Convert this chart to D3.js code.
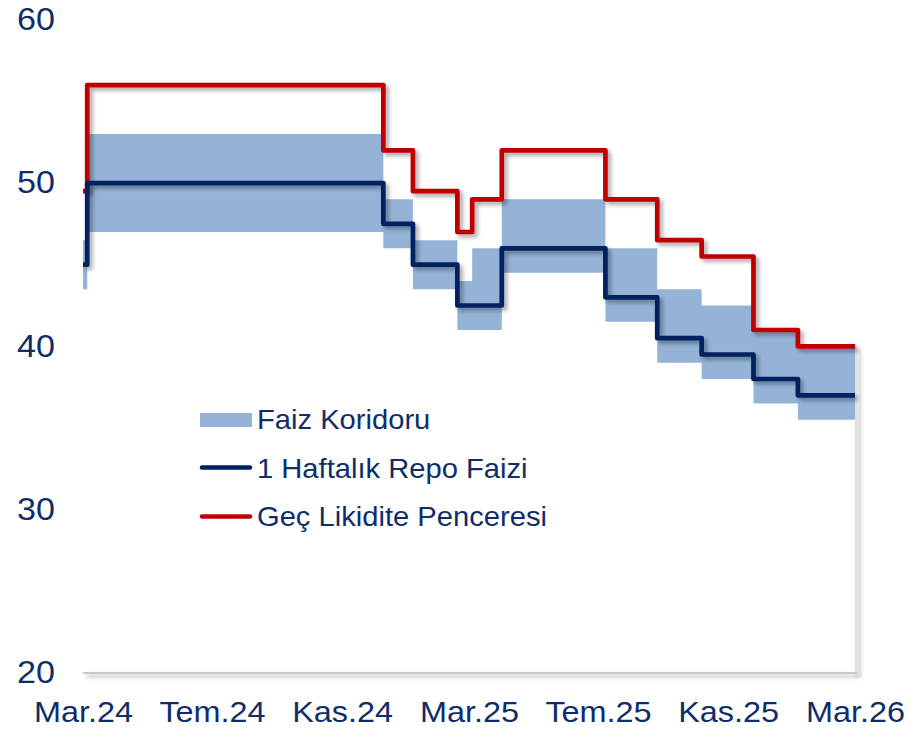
<!DOCTYPE html>
<html>
<head>
<meta charset="utf-8">
<script src="https://cdn.jsdelivr.net/npm/d3@7/dist/d3.min.js"></script>
<style>
  html, body { margin: 0; padding: 0; background: #fff; }
  svg { display: block; }
  text { font-family: "Liberation Sans", Arial, sans-serif; fill: #0F2D69; }
</style>
</head>
<body>
<svg id="chart" width="922" height="729"></svg>
<script>
// ---- data ----
const changeDates = ["2024-03-17","2024-03-21","2024-12-26","2025-01-23","2025-03-06","2025-03-20","2025-04-17","2025-07-24","2025-09-11","2025-10-23","2025-12-11","2026-01-22","2026-03-17"];
const repoRate   = [45, 50, 47.5, 45, 42.5, 42.5, 46, 43, 40.5, 39.5, 38, 37, 37];
const corridorLo = [43.5, 47, 46, 43.5, 41, 41, 44.5, 41.5, 39, 38, 36.5, 35.5, 35.5];
const corridorHi = [46.5, 53, 49, 46.5, 44, 46, 49, 46, 43.5, 42.5, 41, 40, 40];
const lateWindow = [49.5, 56, 52, 49.5, 47, 49, 52, 49, 46.5, 45.5, 41, 40, 40];
const yTicks = [20, 30, 40, 50, 60];
const xTickLabels = ["Mar.24", "Tem.24", "Kas.24", "Mar.25", "Tem.25", "Kas.25", "Mar.26"];
const legendLabels = ["Faiz Koridoru", "1 Haftalık Repo Faizi", "Geç Likidite Penceresi"];

(function () {
const parse = d3.timeParse("%Y-%m-%d");
const rows = changeDates.map((d, i) => ({
  date: parse(d), repo: repoRate[i], lo: corridorLo[i], hi: corridorHi[i], llw: lateWindow[i]
}));

const svg = d3.select("#chart");
const pLeft = 83, pRight = 855, pTop = 19.7, pBottom = 673;

const x = d3.scaleTime()
  .domain([rows[0].date, rows[rows.length - 1].date])
  .range([pLeft, pRight]);
const y = d3.scaleLinear().domain([20, 60]).range([pBottom, pTop]);

const defs = svg.append("defs");
const f = defs.append("filter").attr("id", "shadow")
  .attr("filterUnits", "userSpaceOnUse")
  .attr("x", 0).attr("y", 0).attr("width", 922).attr("height", 729);
f.append("feDropShadow").attr("dx", 3).attr("dy", 3).attr("stdDeviation", 2)
  .attr("flood-color", "#000").attr("flood-opacity", 0.35);

// right edge line of the plot
const last = rows[rows.length - 1];
svg.append("line")
  .attr("x1", x(last.date) + 1).attr("x2", x(last.date) + 1)
  .attr("y1", y(last.hi)).attr("y2", pBottom)
  .attr("stroke", "#E0E0E0").attr("stroke-width", 2).attr("filter", "url(#shadow)");

// corridor band
const area = d3.area()
  .x(d => x(d.date)).y0(d => y(d.lo)).y1(d => y(d.hi))
  .curve(d3.curveStepAfter);
svg.append("path").datum(rows).attr("d", area).attr("fill", "#95B3D7");

// x axis line
svg.append("line")
  .attr("x1", pLeft).attr("x2", pRight + 2).attr("y1", pBottom).attr("y2", pBottom)
  .attr("stroke", "#C8C8C8").attr("stroke-width", 2).attr("filter", "url(#shadow)");

// lines
const lineOf = key => d3.line().x(d => x(d.date)).y(d => y(d[key])).curve(d3.curveStepAfter);
svg.append("path").datum(rows).attr("d", lineOf("llw"))
  .attr("fill", "none").attr("stroke", "#C00000").attr("stroke-width", 4.7)
  .attr("stroke-linejoin", "round").attr("filter", "url(#shadow)");
svg.append("path").datum(rows).attr("d", lineOf("repo"))
  .attr("fill", "none").attr("stroke", "#002060").attr("stroke-width", 4.7)
  .attr("stroke-linejoin", "round").attr("filter", "url(#shadow)");

// y axis labels
const yAxis = d3.axisLeft(y).tickValues(yTicks).tickSize(0).tickPadding(0).tickFormat(d3.format("d"));
const gy = svg.append("g").attr("transform", "translate(55,0)").call(yAxis);
gy.select(".domain").remove();
gy.selectAll("text").attr("font-size", 31).attr("x", 0).attr("dy", "0.32em")
  .attr("transform", "scale(1.1,1)")
  .style("font-family", "'Liberation Sans', Arial, sans-serif").attr("fill", "#0F2D69");

// x axis labels
const xTicks = d3.range(0, 7).map(i => d3.timeMonth.offset(rows[0].date, i * 4));
const xAxis = d3.axisBottom(x).tickValues(xTicks).tickSize(0).tickPadding(0)
  .tickFormat((d, i) => xTickLabels[i]);
const gx = svg.append("g").attr("transform", `translate(0,${pBottom})`).call(xAxis);
gx.select(".domain").remove();
gx.selectAll("text").attr("font-size", 30).attr("y", 49).attr("dy", 0)
  .attr("transform", "scale(1.08,1)")
  .style("font-family", "'Liberation Sans', Arial, sans-serif").attr("fill", "#0F2D69");

// legend
const lg = svg.append("g");
lg.append("rect").attr("x", 200).attr("y", 413).attr("width", 52).attr("height", 14).attr("fill", "#95B3D7");
lg.append("line").attr("x1", 202).attr("x2", 250).attr("y1", 467.5).attr("y2", 467.5)
  .attr("stroke", "#002060").attr("stroke-width", 4.5).attr("stroke-linecap", "round");
lg.append("line").attr("x1", 202).attr("x2", 250).attr("y1", 516.5).attr("y2", 516.5)
  .attr("stroke", "#C00000").attr("stroke-width", 4.5).attr("stroke-linecap", "round");
const ly = [429, 478, 526];
legendLabels.forEach((t, i) => {
  lg.append("text").attr("transform", `translate(257,${ly[i]}) scale(1.06,1)`)
    .attr("font-size", 27.5).text(t);
});
})();
</script>
</body>
</html>
